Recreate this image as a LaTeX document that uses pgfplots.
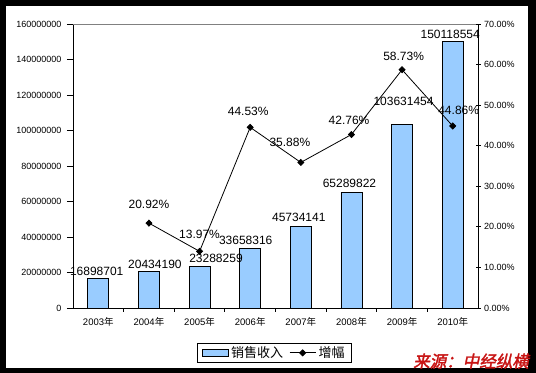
\documentclass[border=0pt]{standalone}
\usepackage{pgfplots}
\usepackage{pgfplotstable}
\pgfplotsset{compat=1.18}
\usepackage{fontspec}
\setmainfont{Liberation Sans}
\newfontfamily\cjk{Noto Sans CJK SC}
\newfontfamily\cjkred[FakeSlant=0.2,FakeBold=2]{Noto Sans CJK SC}
\definecolor{barblue}{HTML}{99CCFF}
\definecolor{srcred}{RGB}{200,20,20}

\pgfplotstableread{
x y lab dx dy
0 16898701 16898701 -1.6 2.6
1 20434190 20434190 6 3
2 23288259 23288259 16.5 4.6
3 33658316 33658316 -4.5 4
4 45734141 45734141 -2 5.6
5 65289822 65289822 -2 4.6
6 103631454 103631454 1.5 19
7 150118554 150118554 -2.5 3
}\bardata

\pgfplotstableread{
x y lab dx dy
1 20.92 20.92 0 14.4
2 13.97 13.97 0 12.7
3 44.53 44.53 -2 11.7
4 35.88 35.88 -11 15.6
5 42.76 42.76 -2.4 9.7
6 58.73 58.73 1.6 9.7
7 44.86 44.86 6 11.7
}\growdata

\begin{document}
\begin{tikzpicture}
\fill[black] (0bp,0bp) rectangle (536bp,373bp);
\fill[white] (6bp,5bp) rectangle (528bp,367bp);
\begin{axis}[
  name=main,
  at={(73bp,65bp)}, anchor=south west,
  width=405bp, height=284bp, scale only axis,
  xmin=-0.5, xmax=7.5, ymin=0, ymax=160000000,
  scaled y ticks=false,
  axis x line*=bottom, axis y line*=left,
  axis line style={black, line width=0.8bp},
  xtick={0,...,7},
  xticklabels={2003{\cjk 年},2004{\cjk 年},2005{\cjk 年},2006{\cjk 年},2007{\cjk 年},2008{\cjk 年},2009{\cjk 年},2010{\cjk 年}},
  minor xtick={0.5,1.5,...,6.5},
  major x tick style={draw=none},
  minor x tick style={black, line width=0.8bp},
  minor tick length=4bp,
  major tick length=6bp,
  ytick={0,20000000,40000000,60000000,80000000,100000000,120000000,140000000,160000000},
  yticklabels={0,20000000,40000000,60000000,80000000,100000000,120000000,140000000,160000000},
  y tick style={black, line width=0.8bp},
  tick align=outside,
  /pgf/number format/assume math mode=true,
  yticklabel style={font=\fontsize{9bp}{10bp}\selectfont, xshift=-2bp},
  xticklabel style={font=\fontsize{9.5bp}{11bp}\selectfont},
  clip=false,
]
\addplot[ybar, bar width=21bp, fill=barblue, draw=black, line width=0.8bp,
  point meta=explicit symbolic,
  nodes near coords,
  visualization depends on={\thisrow{dx} \as \labdx},
  visualization depends on={\thisrow{dy} \as \labdy},
  every node near coord/.append style={anchor=base, inner sep=0pt, xshift=\labdx pt, yshift=\labdy pt, font=\fontsize{12bp}{14bp}\selectfont, text=black},
] table[x=x, y=y, meta=lab] {\bardata};
\end{axis}
\draw[gray, line width=0.8bp] (main.north west) -- (main.north east);
\begin{axis}[
  at={(73bp,65bp)}, anchor=south west,
  width=405bp, height=284bp, scale only axis,
  xmin=-0.5, xmax=7.5, ymin=0, ymax=70,
  axis y line*=right, axis x line=none,
  axis line style={black, line width=0.8bp},
  ytick={0,10,20,30,40,50,60,70},
  yticklabels={0.00\%,10.00\%,20.00\%,30.00\%,40.00\%,50.00\%,60.00\%,70.00\%},
  y tick style={black, line width=0.8bp},
  tick align=center,
  major tick length=5bp,
  /pgf/number format/assume math mode=true,
  yticklabel style={font=\fontsize{9bp}{10bp}\selectfont},
  clip=false,
  legend columns=2,
  legend style={at={(0.4975,-0.158)}, anchor=center, draw=black, line width=0.8bp,
    font=\cjk\fontsize{13bp}{15bp}\selectfont,
    inner xsep=4.5bp, inner ysep=1.75bp,
    nodes={inner xsep=2.5bp, inner ysep=2bp},
    /tikz/every even column/.append style={column sep=3.5bp}},
]
\addplot[black, line width=0.8bp, mark=diamond*, mark size=3bp,
  mark options={fill=black, xscale=1.33},
  point meta=explicit symbolic,
  nodes near coords={\pgfplotspointmeta\%},
  visualization depends on={\thisrow{dx} \as \labdx},
  visualization depends on={\thisrow{dy} \as \labdy},
  every node near coord/.append style={anchor=base, inner sep=0pt, xshift=\labdx pt, yshift=\labdy pt, font=\fontsize{12bp}{14bp}\selectfont, text=black},
  forget plot,
] table[x=x, y=y, meta=lab] {\growdata};
\addlegendimage{legend image code/.code={\draw[fill=barblue,draw=black,line width=0.8bp] (0bp,-3.6bp) rectangle (26bp,3.6bp);}}
\addlegendentry{销售收入}
\addlegendimage{legend image code/.code={\draw[black,line width=0.8bp] (0bp,0bp) -- (26bp,0bp); \fill[black] (13bp,3bp) -- (16bp,0bp) -- (13bp,-3bp) -- (10bp,0bp) -- cycle;}}
\addlegendentry{增幅}
\end{axis}
\node[anchor=south east, inner sep=0pt, text=srcred, font=\cjkred\fontsize{16.5bp}{18bp}\selectfont] at (529bp,4bp) {来源：中经纵横};
\end{tikzpicture}
\end{document}
